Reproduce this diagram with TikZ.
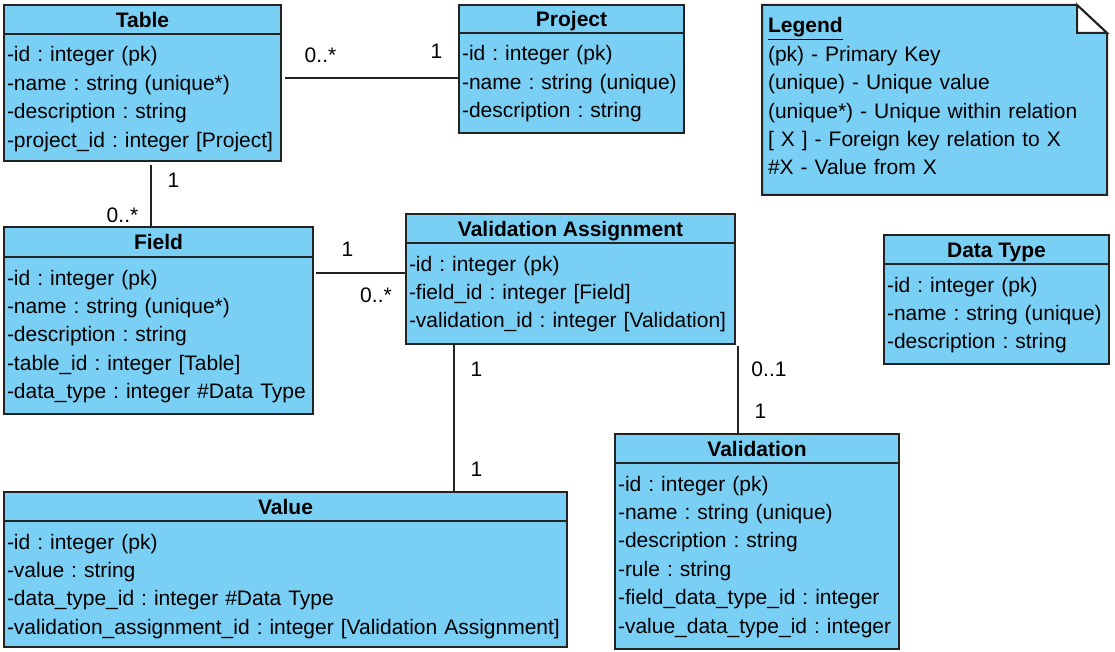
\documentclass[tikz,border=0pt]{standalone}
\usepackage{fontspec}
\setmainfont{Liberation Sans}
\usepackage{tikz}
\usetikzlibrary{calc, backgrounds}

\definecolor{classfill}{RGB}{122,207,245}
\definecolor{classline}{RGB}{35,35,35}

\begin{document}
\begin{tikzpicture}[
    x=1pt, y=-1pt,
    font=\fontsize{21}{28.4}\selectfont\frenchspacing,
    classhead/.style={draw=classline, fill=classfill, line width=2pt, anchor=north west, outer sep=0pt, inner sep=0pt, text height=16pt, text depth=0pt, font=\fontsize{21}{28.4}\selectfont\bfseries},
    classbody/.style={draw=classline, fill=classfill, line width=2pt, anchor=north west, outer sep=0pt, inner xsep=3pt, inner ysep=0pt, align=left, text height=28pt},
    legendtext/.style={anchor=north west, outer sep=0pt, inner xsep=6pt, inner ysep=0pt, align=left, text width=333pt, text height=28pt, text depth=162pt},
    notebox/.style={draw=classline, fill=classfill, line width=2pt},
    foldbox/.style={draw=classline, fill=white, line width=2pt},
    assoc/.style={draw=classline, line width=2pt},
    mult/.style={anchor=base, inner sep=0pt}
]

\useasboundingbox (0,0) rectangle (1115,652);
\begin{scope}[on background layer]
\fill[white] (0,0) rectangle (1115,652);
\end{scope}

% Classes
\node[classhead, minimum width=277pt, minimum height=29pt] (tablehead) at (4,5) {Table};
\node[classbody, text width=271pt, text depth=99pt] (tablebody) at (tablehead.south west) {-id : integer (pk)\\-name : string (unique*)\\-description : string\\-project\_id : integer [Project]};

\node[classhead, minimum width=225pt, minimum height=28pt] (projecthead) at (459,5) {Project};
\node[classbody, text width=219pt, text depth=72pt] (projectbody) at (projecthead.south west) {-id : integer (pk)\\-name : string (unique)\\-description : string};

\node[classhead, minimum width=309pt, minimum height=30pt] (fieldhead) at (4,227) {Field};
\node[classbody, text width=303pt, text depth=129pt] (fieldbody) at (fieldhead.south west) {-id : integer (pk)\\-name : string (unique*)\\-description : string\\-table\_id : integer [Table]\\-data\_type : integer \#Data Type};

\node[classhead, minimum width=329pt, minimum height=29pt] (vahead) at (406,214) {Validation Assignment};
\node[classbody, text width=323pt, text depth=73pt] (vabody) at (vahead.south west) {-id : integer (pk)\\-field\_id : integer [Field]\\-validation\_id : integer [Validation]};

\node[classhead, minimum width=225pt, minimum height=29pt] (datatypehead) at (884,235) {Data Type};
\node[classbody, text width=219pt, text depth=72pt] (datatypebody) at (datatypehead.south west) {-id : integer (pk)\\-name : string (unique)\\-description : string};

\node[classhead, minimum width=563pt, minimum height=29pt] (valuehead) at (4,492) {Value};
\node[classbody, text width=557pt, text depth=98pt] (valuebody) at (valuehead.south west) {-id : integer (pk)\\-value : string\\-data\_type\_id : integer \#Data Type\\-validation\_assignment\_id : integer [Validation Assignment]};

\node[classhead, minimum width=284pt, minimum height=29pt] (validationhead) at (615,434) {Validation};
\node[classbody, text width=278pt, text depth=158pt] (validationbody) at (validationhead.south west) {-id : integer (pk)\\-name : string (unique)\\-description : string\\-rule : string\\-field\_data\_type\_id : integer\\-value\_data\_type\_id : integer};

% Legend note
\node[legendtext] (legend) at (762,5) {\underline{\textbf{Legend}}\\(pk) - Primary Key\\(unique) - Unique value\\(unique*) - Unique within relation\\{[} X ] - Foreign key relation to X\\\#X - Value from X};
\begin{scope}[on background layer]
\draw[notebox] (legend.north west) -- ([xshift=-30pt]legend.north east) -- ([yshift=-28pt]legend.north east) -- (legend.south east) -- (legend.south west) -- cycle;
\draw[foldbox] ([xshift=-30pt]legend.north east) -- ([xshift=-30pt,yshift=-28pt]legend.north east) -- ([yshift=-28pt]legend.north east) -- cycle;
\end{scope}

% Associations
\coordinate (tp) at ($(projectbody.north west)+(0,45)$);
\coordinate (tf) at ($(tablebody.south)+(8.5,4)$);
\coordinate (fv) at ($(vabody.north west)+(0,30)$);
\coordinate (vv) at ($(vabody.south west)+(48,1)$);
\coordinate (vl) at ($(vabody.south east)+(3,2)$);

\draw[assoc] ($(tp -| tablebody.east)+(4,0)$) -- (tp);
\draw[assoc] (tf) -- (tf |- fieldhead.north);
\draw[assoc] ($(fv -| fieldbody.east)+(3,0)$) -- (fv);
\draw[assoc] (vv) -- (vv |- valuehead.north);
\draw[assoc] (vl) -- (vl |- validationhead.north);

% Multiplicities
\node[mult] (mtp1) at (320.5,63) {0..*};
\node[mult] (mtp2) at (436.5,59) {1};
\node[mult] (mtf1) at (173.5,188) {1};
\node[mult] (mtf2) at (122.5,223) {0..*};
\node[mult] (mfv1) at (347.5,256) {1};
\node[mult] (mfv2) at (376,302) {0..*};
\node[mult] (mvv1) at (476.5,376) {1};
\node[mult] (mvv2) at (476.5,476) {1};
\node[mult] (mvl1) at (769,376) {0..1};
\node[mult] (mvl2) at (760.5,418) {1};

\end{tikzpicture}
\end{document}
